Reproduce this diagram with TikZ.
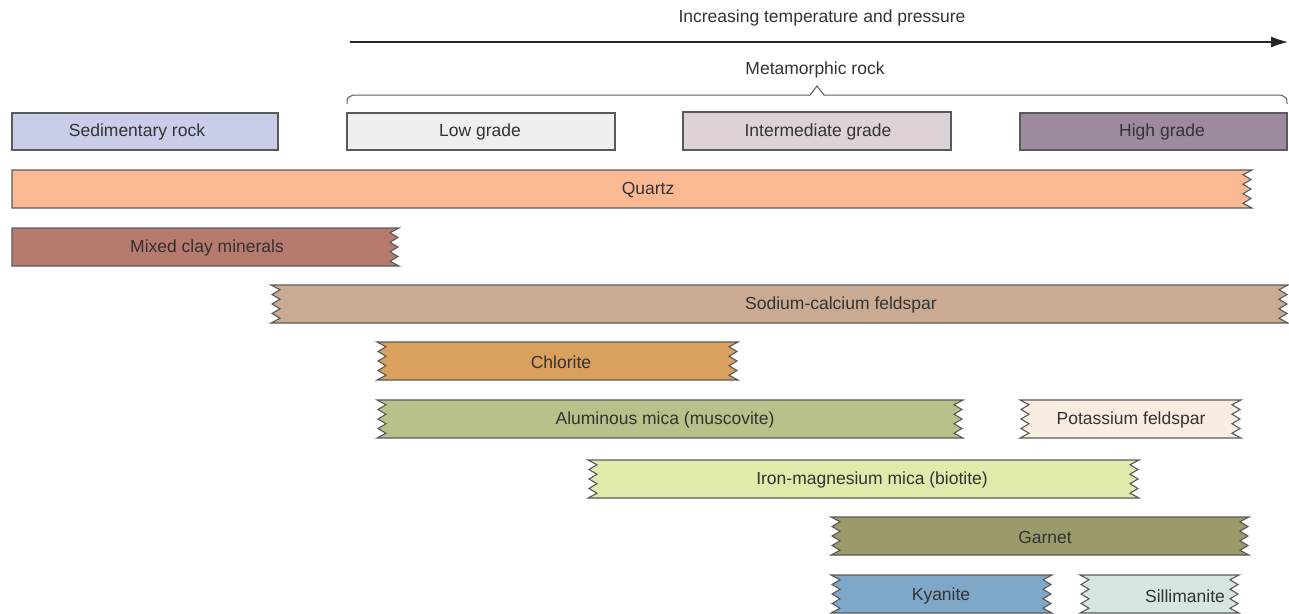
\documentclass[tikz,border=0pt]{standalone}
\usepackage{fontspec}
\setmainfont{Liberation Sans}
\usetikzlibrary{arrows.meta}

% torn (zigzag) edges of a mineral bar, 38 units high
\newcommand{\tornDown}{-- ++(-9,4.75) -- ++(8,4.75) -- ++(-8,4.75) -- ++(8,4.75) -- ++(-8,4.75) -- ++(8,4.75) -- ++(-8,4.75) -- ++(9,4.75)}
\newcommand{\tornUp}{-- ++(9,-4.75) -- ++(-8,-4.75) -- ++(8,-4.75) -- ++(-8,-4.75) -- ++(8,-4.75) -- ++(-8,-4.75) -- ++(8,-4.75) -- ++(-9,-4.75)}
\newcommand{\flatUp}{-- ++(0,-38)}

\definecolor{ink}{HTML}{333333}
\definecolor{edge}{HTML}{5A5A5A}
\definecolor{cSed}{HTML}{C9CDE9}
\definecolor{cLow}{HTML}{EFEEF0}
\definecolor{cMid}{HTML}{DDD2DA}
\definecolor{cHigh}{HTML}{9E8A9E}
\definecolor{cQuartz}{HTML}{FBB993}
\definecolor{cClay}{HTML}{B67A6E}
\definecolor{cNaCa}{HTML}{C9AB94}
\definecolor{cChlor}{HTML}{D9A05E}
\definecolor{cMusc}{HTML}{B9C08A}
\definecolor{cKfs}{HTML}{F9EDE2}
\definecolor{cBiot}{HTML}{E1E9AB}
\definecolor{cGarnet}{HTML}{9A9A6A}
\definecolor{cKyan}{HTML}{7FA7C7}
\definecolor{cSill}{HTML}{D6E4E4}

\begin{document}
\begin{tikzpicture}[x=1pt,y=-1pt,
  every node/.style={font=\fontsize{17.5}{20}\selectfont, text=ink, inner sep=0pt},
  gradebox/.style={draw=edge, line width=1.1pt},
  mineral/.style={draw=edge, line width=1.1pt, line join=miter},
  label/.style={anchor=center}]
\useasboundingbox (0,0) rectangle (1289,613);

% temperature / pressure axis
\node[label] (axislbl) at (822,18) {Increasing temperature and pressure};
\coordinate (axisL) at (350,42);
\coordinate (axisR) at (1288,42);
\draw[line width=1.2pt, draw=black!85, -{Latex[length=17pt,width=11pt]}] (axisL) -- (axisR);

% metamorphic brace
\node[label] (metalbl) at (815,70) {Metamorphic rock};
\coordinate (brL) at (347,104);
\coordinate (brR) at (1287,104);
\coordinate (brTip) at (817,86);
\draw[edge, line width=1pt] (brL) .. controls (347,98) .. (353,95) -- (810,95) -- (brTip) -- (824,95) -- (1281,95) .. controls (1287,98) .. (brR);

% rock boxes
\draw[gradebox, fill=cSed]  (12,113) rectangle (278,150);
\node[label] (sed) at (137,132) {Sedimentary rock};
\draw[gradebox, fill=cLow]  (347,113) rectangle (615,150);
\node[label] (low) at (480,132) {Low grade};
\draw[gradebox, fill=cMid]  (683,112) rectangle (951,150);
\node[label] (mid) at (818,132) {Intermediate grade};
\draw[gradebox, fill=cHigh] (1020,113) rectangle (1287,150);
\node[label] (high) at (1162,132) {High grade};

% mineral stability bars
\draw[mineral, fill=cQuartz] (12,170) -- (1252,170) \tornDown -- (12,208) \flatUp -- cycle;
\node[label] (quartz) at (648,190) {Quartz};

\draw[mineral, fill=cClay] (12,228) -- (399,228) \tornDown -- (12,266) \flatUp -- cycle;
\node[label] (clay) at (207,248) {Mixed clay minerals};

\draw[mineral, fill=cNaCa] (271,285) -- (1288,285) \tornDown -- (271,323) \tornUp -- cycle;
\node[label] (nacafs) at (841,305) {Sodium-calcium feldspar};

\draw[mineral, fill=cChlor] (377,342) -- (738,342) \tornDown -- (377,380) \tornUp -- cycle;
\node[label] (chlorite) at (561,362) {Chlorite};

\draw[mineral, fill=cMusc] (377,400) -- (963,400) \tornDown -- (377,438) \tornUp -- cycle;
\node[label] (musc) at (665,420) {Aluminous mica (muscovite)};

\draw[mineral, fill=cKfs] (1020,400) -- (1241,400) \tornDown -- (1020,438) \tornUp -- cycle;
\node[label] (kfs) at (1131,420) {Potassium feldspar};

\draw[mineral, fill=cBiot] (588,460) -- (1139,460) \tornDown -- (588,498) \tornUp -- cycle;
\node[label] (biot) at (872,480) {Iron-magnesium mica (biotite)};

\draw[mineral, fill=cGarnet] (831,517) -- (1249,517) \tornDown -- (831,555) \tornUp -- cycle;
\node[label] (garnet) at (1045,537) {Garnet};

\draw[mineral, fill=cKyan] (831,575) -- (1052,575) \tornDown -- (831,613) \tornUp -- cycle;
\node[label] (kyan) at (941,596) {Kyanite};

\draw[mineral, fill=cSill] (1080,575) -- (1239,575) \tornDown -- (1080,613) \tornUp -- cycle;
\node[label] (sill) at (1185,596) {Sillimanite};
\end{tikzpicture}
\end{document}
